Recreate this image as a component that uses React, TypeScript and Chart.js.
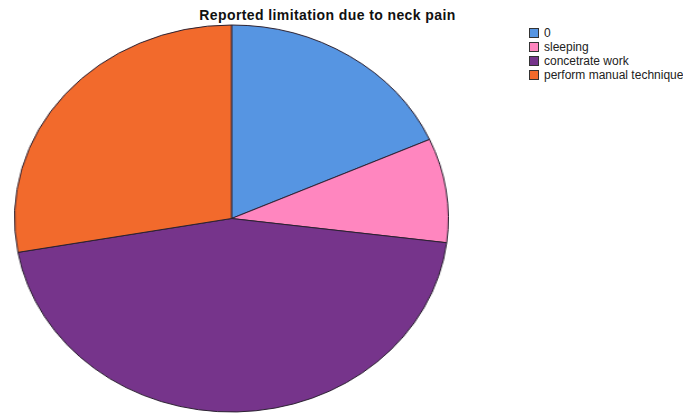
import React, { useEffect, useRef } from "react";
import { Chart, registerables } from "chart.js";

Chart.register(...registerables);

const title = "Reported limitation due to neck pain";
const categories = ["0", "sleeping", "concetrate work", "perform manual technique"];
const percentages = [18.3, 8.7, 45.2, 27.8];
const colors = ["#5695e2", "#ff86bf", "#76348b", "#f26a2c"];

export default function App() {
  const ref = useRef<HTMLCanvasElement | null>(null);

  useEffect(() => {
    if (!ref.current) return;
    const chart = new Chart(ref.current, {
      type: "pie",
      data: {
        labels: categories,
        datasets: [
          {
            data: percentages,
            backgroundColor: colors,
            borderColor: "#2a2030",
            borderWidth: 1,
          },
        ],
      },
      options: {
        animation: false,
        responsive: false,
        devicePixelRatio: 1,
        layout: { padding: 0 },
        plugins: {
          legend: { display: false },
          title: { display: false },
          tooltip: { enabled: false },
        },
      },
    });
    return () => chart.destroy();
  }, []);

  return (
    <div
      style={{
        position: "absolute",
        left: 0,
        top: 0,
        width: 683,
        height: 413,
        background: "#ffffff",
        overflow: "hidden",
        fontFamily: "'Liberation Sans', Arial, sans-serif",
      }}
    >
      <div
        style={{
          position: "absolute",
          left: 0,
          width: 655,
          top: 7,
          textAlign: "center",
          fontWeight: "bold",
          fontSize: 14,
          letterSpacing: "0.4px",
          color: "#111",
          lineHeight: "16px",
        }}
      >
        {title}
      </div>
      <canvas
        ref={ref}
        width={388}
        height={389}
        style={{
          position: "absolute",
          left: 14,
          top: 24,
          width: 435,
          height: 389,
        }}
      />
      <div style={{ position: "absolute", left: 529, top: 26 }}>
        {categories.map((c, i) => (
          <div
            key={c}
            style={{
              display: "flex",
              alignItems: "center",
              height: 14,
              fontSize: 12,
              color: "#222",
            }}
          >
            <span
              style={{
                display: "inline-block",
                width: 8,
                height: 8,
                background: colors[i],
                border: "1px solid #333",
                marginRight: 5,
                flexShrink: 0,
              }}
            />
            <span style={{ whiteSpace: "nowrap" }}>{c}</span>
          </div>
        ))}
      </div>
    </div>
  );
}
